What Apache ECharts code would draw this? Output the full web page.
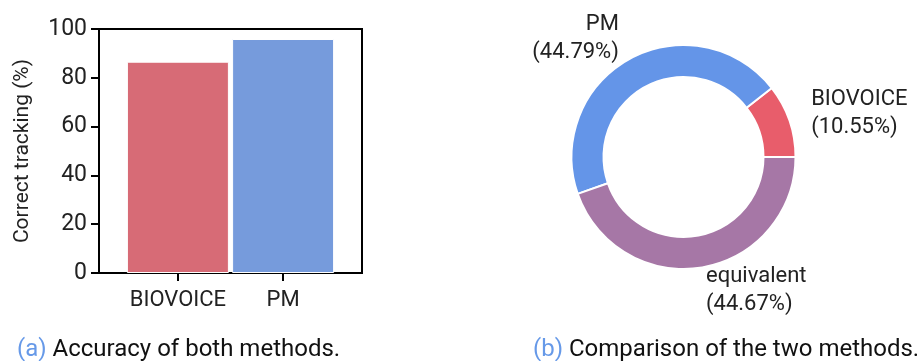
<!DOCTYPE html>
<html>
<head>
<meta charset="utf-8">
<script src="https://cdn.jsdelivr.net/npm/echarts@6/dist/echarts.min.js"></script>
<style>
  html, body { margin: 0; padding: 0; background: #fff; }
  #chart { width: 917px; height: 361px; }
</style>
</head>
<body>
<div id="chart"></div>
<script>
// accuracy of each method (bar chart)
var methods = ['BIOVOICE', 'PM'];
var accuracy = [86.6, 95.9];
var yTicks = [0, 20, 40, 60, 80, 100];

// share of the comparison (donut)
var pieNames = ['BIOVOICE', 'PM', 'equivalent'];
var pieShares = [10.55, 44.79, 44.67];

var barColors = ['#D76B76', '#769BDC'];
var pieColors = ['#E85D6B', '#6495E8', '#A677A6'];

var chartDom = document.getElementById('chart');
var myChart = echarts.init(chartDom, null, { renderer: 'canvas' });

var font = 'Roboto';

var option = {
  animation: false,
  textStyle: { fontFamily: font },
  grid: {
    left: 99, top: 29, width: 263, height: 244,
    show: true, borderColor: '#000', borderWidth: 2, backgroundColor: 'transparent'
  },
  xAxis: {
    type: 'value',
    min: -0.75, max: 1.75,
    splitLine: { show: false },
    axisLine: { show: true, onZero: false, lineStyle: { color: '#000', width: 2 } },
    axisTick: { show: true, customValues: [0, 1], length: 8, lineStyle: { color: '#000', width: 2 } },
    axisLabel: {
      customValues: [0, 1],
      formatter: function (v) { return methods[Math.round(v)]; },
      fontSize: 22, color: '#222', margin: 16, fontFamily: font
    }
  },
  yAxis: {
    type: 'value',
    min: yTicks[0], max: yTicks[yTicks.length - 1], interval: 20,
    name: 'Correct tracking (%)',
    nameLocation: 'middle',
    nameGap: 66,
    nameTextStyle: { fontSize: 21, color: '#222', fontFamily: font },
    splitLine: { show: false },
    axisLine: { show: true, onZero: false, lineStyle: { color: '#000', width: 2 } },
    axisTick: { show: true, length: 8, lineStyle: { color: '#000', width: 2 } },
    axisLabel: { fontSize: 23, color: '#222', margin: 12, fontFamily: font }
  },
  series: [
    {
      type: 'bar',
      barWidth: 102,
      data: accuracy.map(function (v, i) {
        return { value: [i, v], itemStyle: { color: barColors[i] } };
      }),
      itemStyle: { borderColor: '#fff', borderWidth: 1 }
    },
    {
      type: 'pie',
      center: [683.5, 157],
      radius: [80, 112],
      startAngle: 0,
      clockwise: false,
      avoidLabelOverlap: false,
      itemStyle: { borderColor: '#fff', borderWidth: 2 },
      label: {
        show: true,
        position: 'outside',
        formatter: '{b}\n({c}%)',
        fontSize: 22,
        lineHeight: 28,
        color: '#222',
        fontFamily: font,
        distanceToLabelLine: 0
      },
      labelLine: { show: false, length: 23, length2: 0 },
      data: pieNames.map(function (n, i) {
        return { name: n, value: pieShares[i], itemStyle: { color: pieColors[i] } };
      })
    }
  ],
  graphic: [
    {
      type: 'text', left: 17, top: 338,
      style: {
        text: '{l|(a)} Accuracy of both methods.',
        font: '24px Roboto', fill: '#111',
        rich: { l: { fill: '#6699E8', fontSize: 24, fontFamily: font } }
      }
    },
    {
      type: 'text', left: 533, top: 338,
      style: {
        text: '{l|(b)} Comparison of the two methods.',
        font: '24px Roboto', fill: '#111',
        rich: { l: { fill: '#6699E8', fontSize: 24, fontFamily: font } }
      }
    }
  ]
};

myChart.setOption(option);
</script>
</body>
</html>
